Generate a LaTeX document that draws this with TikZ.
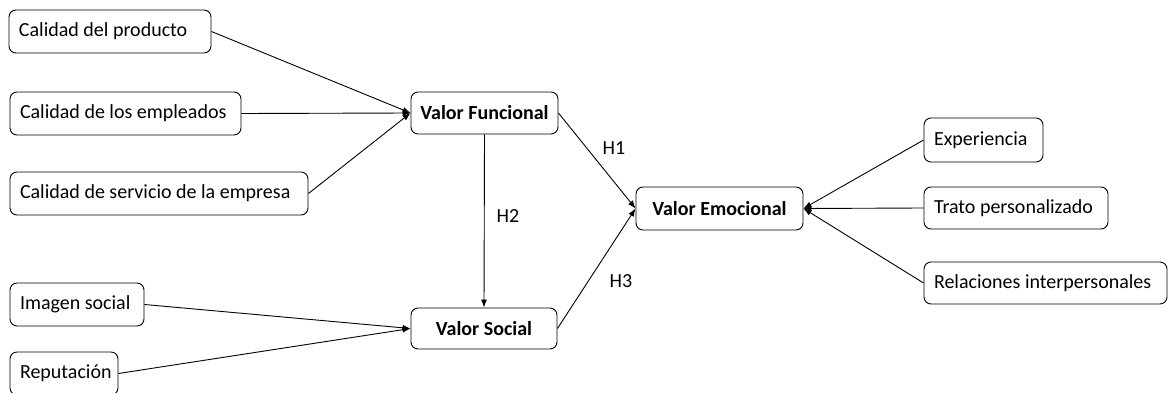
\documentclass[tikz,border=0pt]{standalone}
\usepackage{fontspec}
\setmainfont{Carlito}
\usetikzlibrary{arrows.meta}
\begin{document}
\begin{tikzpicture}[x=1pt,y=-1pt,
  box/.style={draw=black, line width=0.9pt, rounded corners=7pt, fill=white,
    font=\fontsize{20}{24}\selectfont, inner ysep=0pt},
  lbox/.style={box, align=flush left, inner xsep=10pt, text width=#1},
  bbox/.style={box, inner xsep=0pt, align=center, font=\fontsize{20}{24}\selectfont\bfseries},
  link/.style={line width=0.9pt, -{Latex[length=8pt,width=6pt]}},
  hyp/.style={font=\fontsize{20}{24}\selectfont}]
\useasboundingbox (0,0) rectangle (1168,393);
\clip (0,0) rectangle (1168,393);

% indicators of the functional value
\node[lbox=182pt, minimum height=43pt] (prod) at (110,31.5) {\mbox{Calidad del producto}};
\node[lbox=211pt, minimum height=43pt] (empl) at (125.5,113.5) {\mbox{Calidad de los empleados}};
\node[lbox=278pt, minimum height=43pt] (serv) at (159,193.5) {\mbox{Calidad de servicio de la empresa}};

% indicators of the social value
\node[lbox=114pt, minimum height=43pt] (img) at (77,304.5) {\mbox{Imagen social}};
\node[lbox=88pt, minimum height=43pt] (rep) at (64,373.5) {\mbox{Reputación}};

% latent constructs
\node[bbox, minimum width=147pt, minimum height=42pt] (func) at (484.5,113) {Valor Funcional};
\node[bbox, minimum width=146pt, minimum height=41pt] (soc) at (484,328.5) {Valor Social};
\node[bbox, minimum width=167pt, minimum height=43pt] (emo) at (719.5,208.5) {Valor Emocional};

% indicators of the emotional value
\node[lbox=99pt, minimum height=44pt] (exp) at (983.5,140) {\mbox{Experiencia}};
\node[lbox=164pt, minimum height=42pt] (trato) at (1016,208) {\mbox{Trato personalizado}};
\node[lbox=223pt, minimum height=42pt] (rel) at (1045.5,283) {\mbox{Relaciones interpersonales}};

% measurement paths
\draw[link] (prod.east) -- (func.west);
\draw[link] (empl.east) -- (func.west);
\draw[link] (serv.east) -- (func.west);
\draw[link] (img.east) -- (soc.west);
\draw[link] (rep.east) -- (soc.west);
\draw[link] (exp.west) -- (emo.east);
\draw[link] (trato.west) -- (emo.east);
\draw[link] (rel.west) -- (emo.east);

% structural paths (hypotheses)
\draw[link] (func.east) -- (emo.west);
\draw[link] (func.south) -- (soc.north);
\draw[link] (soc.east) -- (emo.west);

\node[hyp] (h1) at (614,148) {H1};
\node[hyp] (h2) at (508,216) {H2};
\node[hyp] (h3) at (621,281) {H3};
\end{tikzpicture}
\end{document}
